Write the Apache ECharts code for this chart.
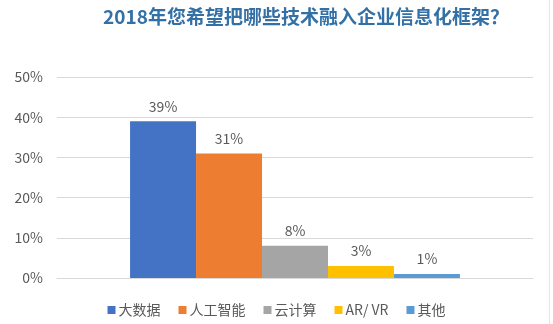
<!DOCTYPE html>
<html>
<head>
<meta charset="utf-8">
<script src="https://cdn.jsdelivr.net/npm/echarts@6/dist/echarts.min.js"></script>
<style>
  html, body { margin: 0; padding: 0; background: #ffffff; }
  #chart { width: 553px; height: 324px; }
</style>
</head>
<body>
<div id="chart"></div>
<script>
// Survey: which technologies to bring into the enterprise IT framework in 2018
const titleText = '2018年您希望把哪些技术融入企业信息化框架？';
const seriesNames = ['大数据', '人工智能', '云计算', 'AR/ VR', '其他'];
const seriesValues = [39, 31, 8, 3, 1];
const seriesColors = ['#4472C4', '#ED7D31', '#A5A5A5', '#FFC000', '#5B9BD5'];
const yTicks = [0, 10, 20, 30, 40, 50];

const textColor = '#595959';
const font = '"Microsoft YaHei", "Noto Sans CJK SC", sans-serif';

const chart = echarts.init(document.getElementById('chart'), null, { renderer: 'canvas' });

const series = seriesNames.map((name, i) => ({
  name: name,
  type: 'bar',
  data: [seriesValues[i]],
  barGap: '0%',
  barCategoryGap: '30.7%',
  itemStyle: { color: seriesColors[i] },
  label: {
    show: true,
    position: 'top',
    distance: 8,
    formatter: '{c}%',
    color: textColor,
    fontSize: 14,
    fontFamily: font
  }
}));

chart.setOption({
  animation: false,
  backgroundColor: '#ffffff',
  title: {
    text: titleText,
    left: 301,
    textAlign: 'center',
    top: 2,
    textStyle: {
      color: '#3370A6',
      fontSize: 19,
      fontWeight: 'bold',
      fontFamily: font
    }
  },
  legend: {
    bottom: 2,
    left: 'center',
    itemWidth: 8,
    itemHeight: 8,
    itemGap: 18,
    icon: 'rect',
    textStyle: { color: textColor, fontSize: 14, fontFamily: font, padding: [0, 0, 0, -2] },
    data: seriesNames
  },
  grid: { left: 57, right: 20, top: 77, bottom: 46, containLabel: false },
  xAxis: {
    type: 'category',
    data: [''],
    axisLine: { show: true, lineStyle: { color: '#d9d9d9' } },
    axisTick: { show: false },
    axisLabel: { show: false }
  },
  yAxis: {
    type: 'value',
    min: yTicks[0],
    max: yTicks[yTicks.length - 1],
    interval: 10,
    axisLine: { show: false },
    axisTick: { show: false },
    splitLine: { lineStyle: { color: '#d9d9d9' } },
    axisLabel: {
      formatter: '{value}%',
      color: textColor,
      fontSize: 14,
      fontFamily: font,
      margin: 14
    }
  },
  graphic: [{
    type: 'line',
    shape: { x1: 549.5, y1: 0, x2: 549.5, y2: 324 },
    style: { stroke: '#e6e6e6', lineWidth: 1 }
  }],
  series: series
});
</script>
</body>
</html>
